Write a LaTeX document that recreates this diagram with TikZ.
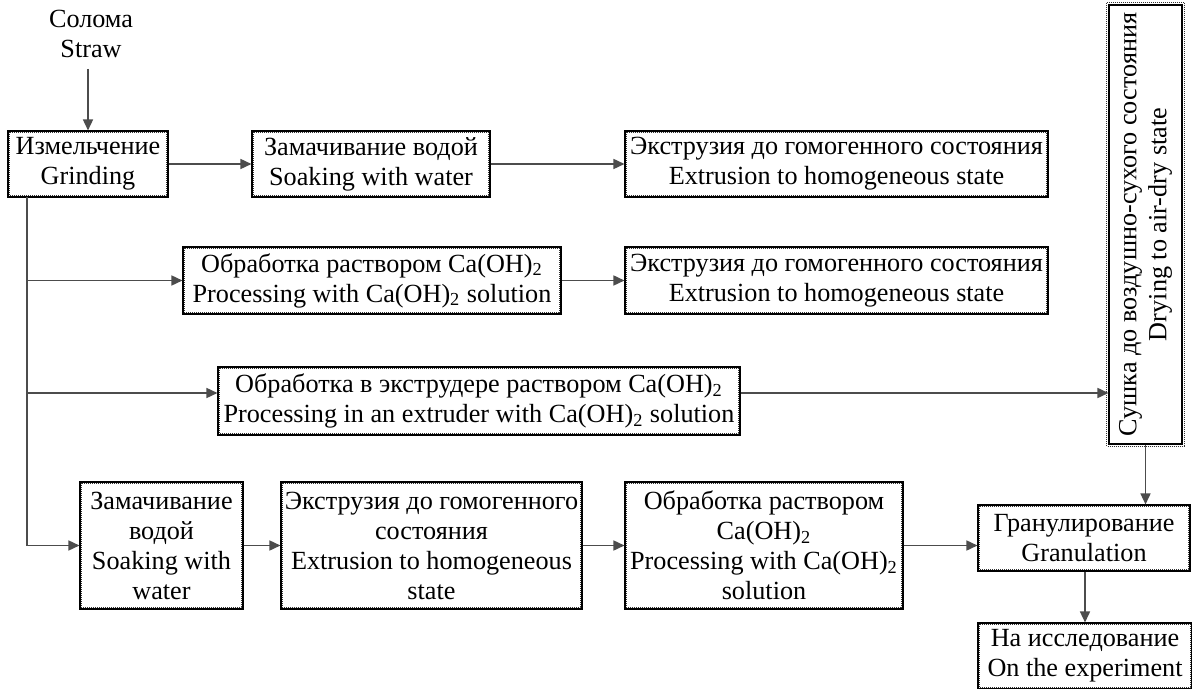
\documentclass[tikz,border=0pt]{standalone}
\usepackage{fontspec}
\setmainfont{Liberation Serif}
\usetikzlibrary{arrows.meta}
\begin{document}
\begin{tikzpicture}[x=0.5pt,y=-0.5pt,
  font=\fontsize{13.1}{15}\selectfont,
  box/.style={draw=black, line width=0.55pt, fill=white, align=center, inner sep=1pt},
  conn/.style={draw=black!70, line width=0.8pt, -{Triangle[length=5.5pt,width=5pt]}},
  line/.style={draw=black!70, line width=0.8pt},
  dotb/.style={line width=0.6pt, dash pattern=on 0.5pt off 0.5pt, black!80}]
\useasboundingbox (0,0) rectangle (1192,689);
% text node
\node[align=center] (straw) at (91,34) {Солома\\Straw};
% boxes
\node[box, minimum width=80pt, minimum height=33pt] (grind) at (88,164) {Измельчение\\Grinding};
\node[box, minimum width=119pt, minimum height=33pt] (soak1) at (371,164) {Замачивание водой\\Soaking with water};
\node[box, minimum width=211.5pt, minimum height=33pt] (ext1) at (836.5,164) {Экструзия до гомогенного состояния\\Extrusion to homogeneous state};
\node[box, minimum width=189pt, minimum height=33.5pt] (ca1) at (372,280.5) {Обработка раствором Ca(OH)\textsubscript{2}\\Processing with Ca(OH)\textsubscript{2} solution};
\node[box, minimum width=211.5pt, minimum height=33.5pt] (ext2) at (836.5,280.5) {Экструзия до гомогенного состояния\\Extrusion to homogeneous state};
\node[box, minimum width=261pt, minimum height=34pt] (extr) at (479,401) {Обработка в экструдере раствором Ca(OH)\textsubscript{2}\\Processing in an extruder with Ca(OH)\textsubscript{2} solution};
\node[box, rotate=90, minimum width=219.5pt, minimum height=36.5pt] (dry) at (1145.5,224.5) {Сушка до воздушно-сухого состояния\\Drying to air-dry state};
\node[box, minimum width=81.5pt, minimum height=63.5pt] (soak2) at (161.5,545.5) {Замачивание\\водой\\Soaking with\\water};
\node[box, minimum width=150.5pt, minimum height=63.5pt] (ext3) at (431.5,545.5) {Экструзия до гомогенного\\состояния\\Extrusion to homogeneous\\state};
\node[box, minimum width=139pt, minimum height=63.5pt] (proc) at (764,545.5) {Обработка раствором\\Ca(OH)\textsubscript{2}\\Processing with Ca(OH)\textsubscript{2}\\solution};
\node[box, minimum width=106pt, minimum height=33pt] (gran) at (1084,538) {Гранулирование\\Granulation};
\node[box, minimum width=107pt, minimum height=33pt] (exp) at (1085,656) {На исследование\\On the experiment};
% inner dotted border
\foreach \n in {grind,soak1,ext1,ca1,ext2,extr,soak2,ext3,proc,gran,exp}
  \draw[dotb] ([xshift=0.9pt,yshift=-0.9pt]\n.north west) rectangle ([xshift=-0.9pt,yshift=0.9pt]\n.south east);
\draw[dotb] ([xshift=0.9pt,yshift=-0.9pt]dry.south west) rectangle ([xshift=-0.9pt,yshift=0.9pt]dry.north east);
% coordinates for trunk
\coordinate (t0) at (27,197);
\coordinate (b1) at (27,280.5);
\coordinate (b2) at (27,393);
\coordinate (b3) at (27,545.5);
% connectors
\draw[conn] (straw.south -| grind.north) ++(0,4) -- (grind.north);
\draw[conn] (grind.east) -- (soak1.west);
\draw[conn] (soak1.east) -- (ext1.west);
\draw[line] (t0) -- (b3);
\draw[conn] (b1) -- (ca1.west);
\draw[conn] (ca1.east) -- (ext2.west);
\draw[conn] (b2) -- (b2 -| extr.west);
\draw[conn] (b2 -| extr.east) -- (b2 -| dry.north);
\draw[conn] (b3) -- (soak2.west);
\draw[conn] (soak2.east) -- (ext3.west);
\draw[conn] (ext3.east) -- (proc.west);
\draw[conn] (proc.east) -- (proc.east -| gran.west);
\draw[conn] (dry.west) -- (dry.west |- gran.north);
\draw[conn] (gran.south -| exp.north) -- (exp.north);
\end{tikzpicture}
\end{document}
